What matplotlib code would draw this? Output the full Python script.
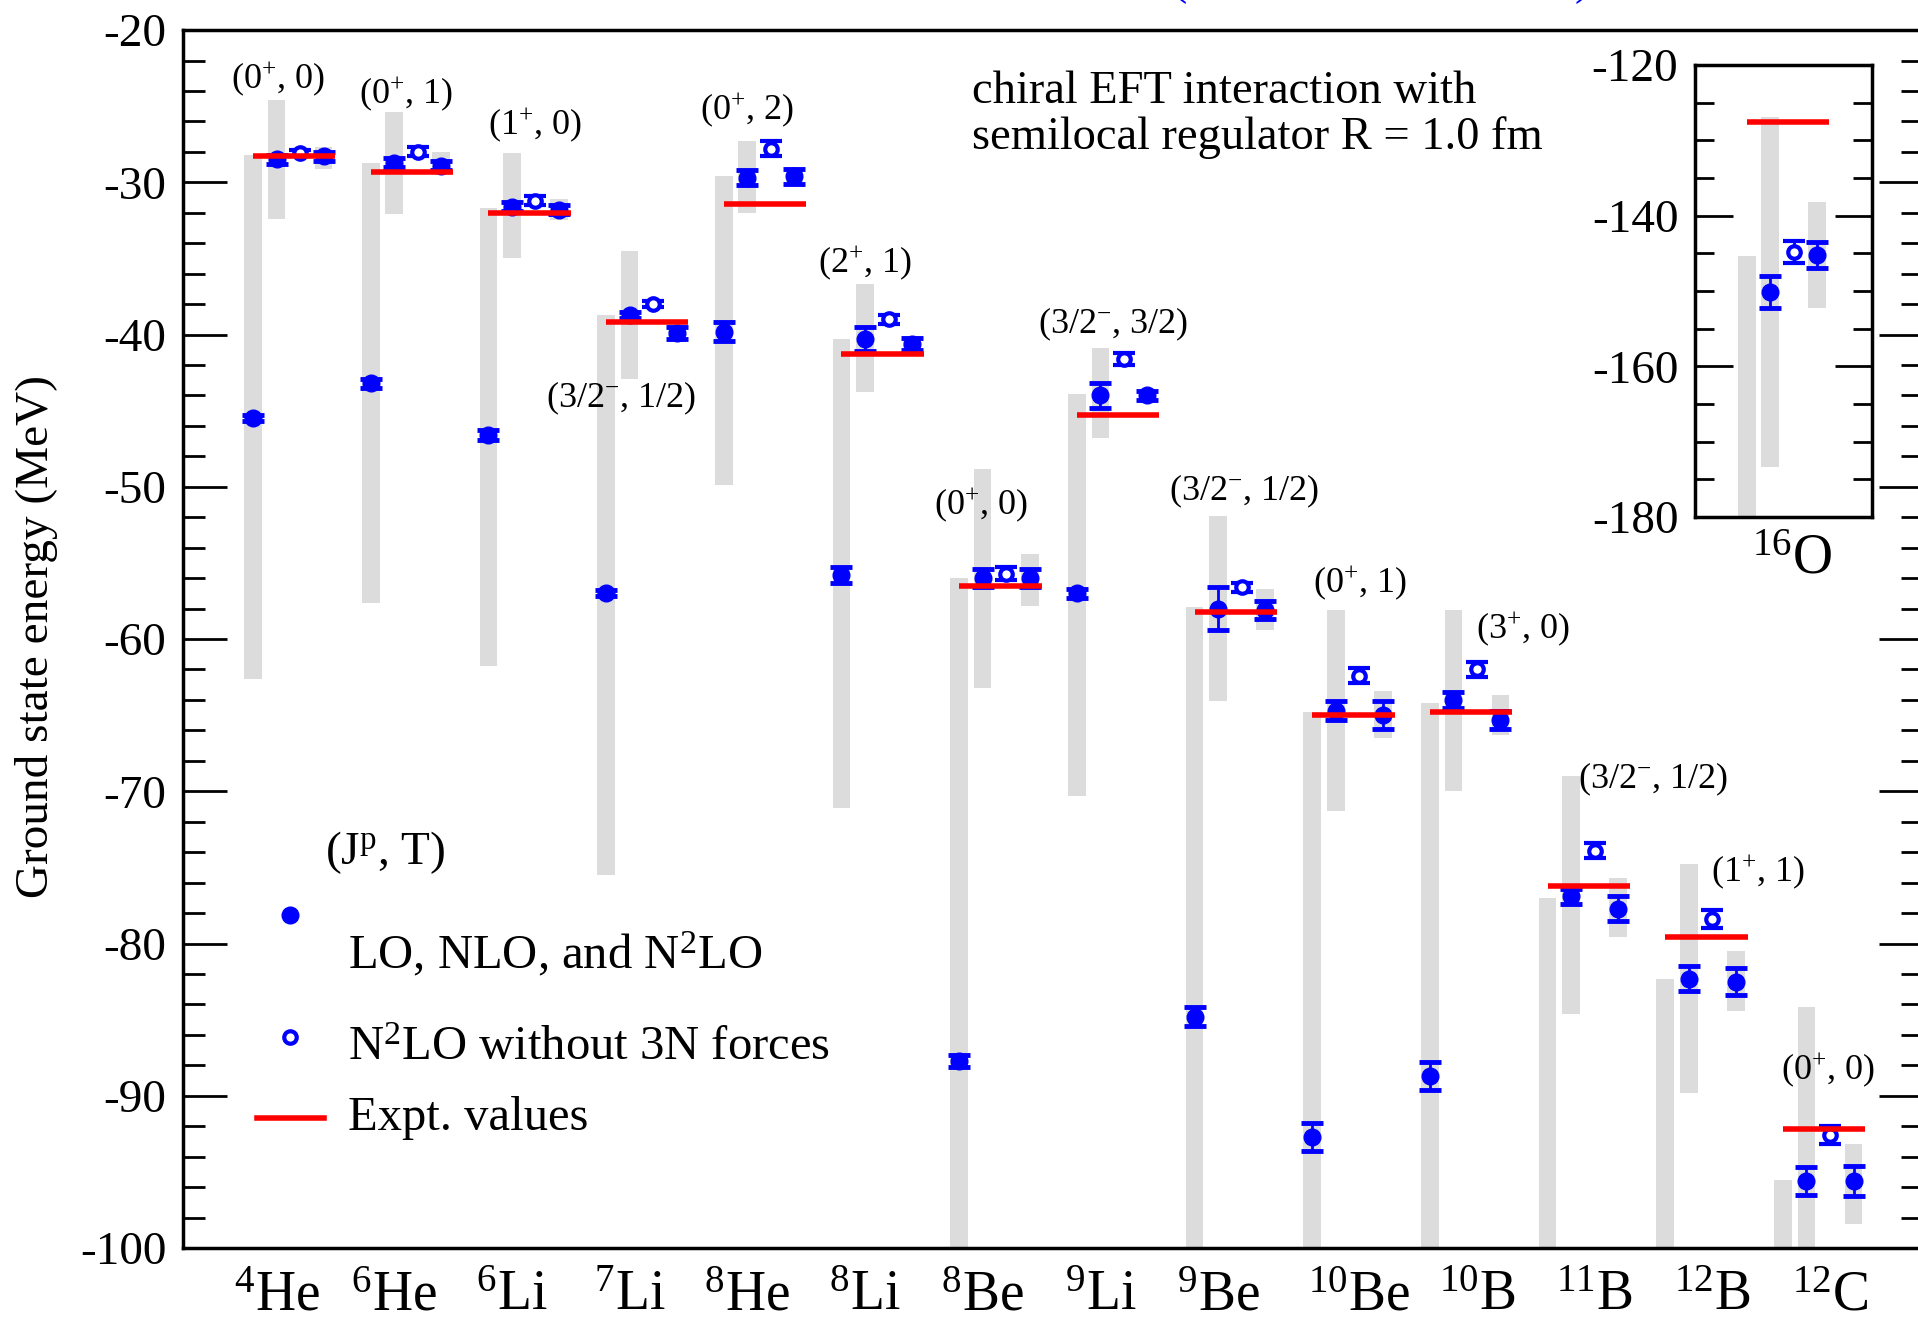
import numpy as np
import matplotlib
matplotlib.use("Agg")
import matplotlib.pyplot as plt

plt.rcParams["font.family"] = ["Liberation Serif", "DejaVu Serif"]
plt.rcParams["mathtext.fontset"] = "custom"
plt.rcParams["mathtext.rm"] = "Liberation Serif"
plt.rcParams["mathtext.it"] = "Liberation Serif:italic"
plt.rcParams["axes.unicode_minus"] = False

# ---------------------------------------------------------------------------
# data (MeV)
# ---------------------------------------------------------------------------
mass = [4, 6, 6, 7, 8, 8, 8, 9, 9, 10, 10, 11, 12, 12]
symbol = ["He", "He", "Li", "Li", "He", "Li", "Be", "Li", "Be", "Be", "B", "B", "B", "C"]
states = ["(0$^{+}$, 0)", "(0$^{+}$, 1)", "(1$^{+}$, 0)", "(3/2$^{-}$, 1/2)", "(0$^{+}$, 2)",
          "(2$^{+}$, 1)", "(0$^{+}$, 0)", "(3/2$^{-}$, 3/2)", "(3/2$^{-}$, 1/2)", "(0$^{+}$, 1)",
          "(3$^{+}$, 0)", "(3/2$^{-}$, 1/2)", "(1$^{+}$, 1)", "(0$^{+}$, 0)"]

nan = np.nan
lo = [-45.5, -43.2, -46.6, -57.0, -39.8, -55.8, -87.7, -57.0, -84.8, -92.7, -88.7, nan, nan, nan]
nlo = [-28.5, -28.7, -31.6, -38.7, -29.7, -40.3, -56.0, -44.0, -58.0, -64.7, -64.0, -76.9, -82.3, -95.6]
n2lo_no3n = [-28.1, -28.0, -31.2, -38.0, -27.8, -39.0, -55.7, -41.6, -56.6, -62.4, -62.0, -73.9, -78.4, -92.6]
n2lo = [-28.3, -28.9, -31.8, -39.9, -29.6, -40.6, -56.0, -44.0, -58.1, -65.0, -65.3, -77.7, -82.5, -95.6]
expt = [-28.3, -29.3, -32.0, -39.2, -31.4, -41.3, -56.5, -45.3, -58.2, -65.0, -64.8, -76.2, -79.6, -92.2]

lo_err = [0.2, 0.3, 0.3, 0.2, 0.6, 0.5, 0.4, 0.3, 0.6, 0.9, 0.9, 0.9, 0.9, 0.9]
nlo_err = [0.3, 0.3, 0.3, 0.2, 0.5, 0.8, 0.6, 0.8, 1.4, 0.6, 0.5, 0.5, 0.8, 0.9]
no3n_err = [0.2, 0.3, 0.3, 0.2, 0.5, 0.3, 0.4, 0.4, 0.3, 0.5, 0.5, 0.5, 0.6, 0.6]
n2lo_err = [0.3, 0.3, 0.3, 0.4, 0.5, 0.4, 0.6, 0.3, 0.6, 0.9, 0.6, 0.8, 0.9, 1.0]

# uncertainty bands (top, bottom)
lo_band_top = [-28.2, -28.7, -31.7, -38.7, -29.6, -40.3, -56.0, -43.9, -57.9, -64.8, -64.2, -77.0, -82.3, -95.5]
lo_band_bot = [-62.6, -57.6, -61.8, -75.5, -49.9, -71.1, -119.4, -70.3, -111.7, -120.6, -113.2, -130, -130, -130]
nlo_band_top = [-24.6, -25.4, -28.1, -34.5, -27.3, -36.7, -48.8, -40.9, -51.9, -58.1, -58.1, -69.0, -74.8, -84.2]
nlo_band_bot = [-32.4, -32.1, -35.0, -42.9, -32.0, -43.8, -63.2, -46.8, -64.1, -71.3, -70.0, -84.6, -89.8, -107.0]
n2lo_band_top = [-27.7, -28.0, -31.1, -39.3, -29.2, -40.1, -54.4, -43.6, -56.7, -63.4, -63.7, -75.7, -80.5, -93.2]
n2lo_band_bot = [-29.1, -29.5, -32.5, -40.5, -30.0, -41.3, -57.8, -44.4, -59.4, -66.5, -66.3, -79.6, -84.4, -98.4]

# 16O (inset)
o16_lo, o16_nlo, o16_no3n, o16_n2lo = nan, -150.1, -144.8, -145.2
o16_lo_err, o16_nlo_err, o16_no3n_err, o16_n2lo_err = 0.0, 2.1, 1.5, 1.7
o16_expt = -127.6
o16_bands = [(-145.3, -220.0), (-126.9, -173.3), (-138.2, -152.2)]

# label anchors (offset from group start, energy)
state_pos = [(0.21, -23.2), (0.30, -24.2), (0.40, -26.2), (0.13, -44.2), (0.20, -25.2),
             (0.20, -35.3), (0.19, -51.2), (0.31, -39.3), (0.42, -50.3), (0.41, -56.3),
             (0.79, -59.3), (0.90, -69.2), (0.79, -75.3), (0.38, -88.3)]

# ---------------------------------------------------------------------------
BLUE = "#0000ff"
RED = "#ff0000"
GRAY = "#dcdcdc"
OFF = [0.0, 0.2, 0.4, 0.6]   # LO, NLO, N2LO w/o 3N, N2LO
BAR_W = 0.15


def draw_group(ax, x0, vals, errs, bands, ex):
    for off, (top, bot) in zip([OFF[0], OFF[1], OFF[3]], bands):
        ax.bar(x0 + off, top - bot, bottom=bot, width=BAR_W, color=GRAY, zorder=1)
    for k in (0, 1, 3):
        ax.errorbar(x0 + OFF[k], vals[k], yerr=errs[k], fmt="o", color=BLUE, ms=12,
                    elinewidth=2, capsize=8, capthick=3.5, zorder=3)
    ax.errorbar(x0 + OFF[2], vals[2], yerr=errs[2], fmt="o", color=BLUE, mfc="white",
                mec=BLUE, ms=9, mew=3, elinewidth=2, capsize=8, capthick=3.5, zorder=3)
    ax.hlines(ex, x0, x0 + 0.7, color=RED, lw=4, zorder=4)


def style_axis(ax, major, minor, size):
    ax.yaxis.set_major_locator(plt.MultipleLocator(major))
    ax.yaxis.set_minor_locator(plt.MultipleLocator(minor))
    ax.tick_params(axis="y", which="both", direction="in", left=True, right=True,
                   width=2, labelsize=size, pad=12)
    for s in ax.spines.values():
        s.set_linewidth(2.5)


fig = plt.figure(figsize=(19.18, 13.25), dpi=100)
ax = fig.add_axes([0.0954, 0.0581, 0.9072, 0.9192])

x = np.arange(len(mass), dtype=float)
for i in range(len(mass)):
    draw_group(ax, x[i],
               [lo[i], nlo[i], n2lo_no3n[i], n2lo[i]],
               [lo_err[i], nlo_err[i], no3n_err[i], n2lo_err[i]],
               [(lo_band_top[i], lo_band_bot[i]), (nlo_band_top[i], nlo_band_bot[i]),
                (n2lo_band_top[i], n2lo_band_bot[i])],
               expt[i])
    dx, ey = state_pos[i]
    ax.text(x[i] + dx, ey, states[i], fontsize=26, ha="center", va="center", zorder=5)

ax.set_xlim(-0.595, 14.19)
ax.set_ylim(-100, -20)
style_axis(ax, 10, 2, 34)
ax.tick_params(axis="y", which="major", length=32)
ax.tick_params(axis="y", which="minor", length=16)

tick_x = [x[i] + (0.2 if m < 10 else 0.4) for i, m in enumerate(mass)]
tick_lab = [f"$^{{{m}}}$" + s for m, s in zip(mass, symbol)]
ax.set_xticks(tick_x)
ax.set_xticklabels(tick_lab, fontsize=40)
ax.tick_params(axis="x", length=0, pad=16)

ax.set_ylabel("Ground state energy (MeV)", fontsize=34)
ax.yaxis.set_label_coords(-0.072, 0.502)

# description and legend
ax.text(0.4537, 0.949, "chiral EFT interaction with", transform=ax.transAxes,
        fontsize=33.5, va="center", ha="left")
ax.text(0.4537, 0.912, "semilocal regulator R = 1.0 fm", transform=ax.transAxes,
        fontsize=33.5, va="center", ha="left")

ax.text(0.116, 0.325, "(J$^{\\mathrm{p}}$, T)", transform=ax.transAxes, fontsize=34,
        ha="center", va="center")
ax.plot([0.0615], [0.2734], "o", color=BLUE, ms=12, transform=ax.transAxes, clip_on=False)
ax.text(0.095, 0.2414, "LO, NLO, and N$^{2}$LO", transform=ax.transAxes, fontsize=35,
        va="center")
ax.plot([0.0615], [0.173], "o", color=BLUE, mfc="white", ms=9, mew=3,
        transform=ax.transAxes, clip_on=False)
ax.text(0.095, 0.164, "N$^{2}$LO without 3N forces", transform=ax.transAxes, fontsize=35,
        va="center")
ax.plot([0.0425, 0.081], [0.1067, 0.1067], color=RED, lw=4, transform=ax.transAxes)
ax.text(0.095, 0.1067, "Expt. values", transform=ax.transAxes, fontsize=35, va="center")

# clipped blue header from the page above
fig.text(0.615, 1.0 + 38 / 1325, "(", color=BLUE, fontsize=33, ha="center", va="top")
fig.text(0.825, 1.0 + 38 / 1325, ")", color=BLUE, fontsize=33, ha="center", va="top")

# inset: 16O
axi = fig.add_axes([0.8837, 0.6098, 0.0923, 0.3411])
draw_group(axi, 0.0, [o16_lo, o16_nlo, o16_no3n, o16_n2lo],
           [o16_lo_err, o16_nlo_err, o16_no3n_err, o16_n2lo_err], o16_bands, o16_expt)
axi.set_xlim(-0.44, 1.065)
axi.set_ylim(-180, -120)
style_axis(axi, 20, 5, 34)
axi.tick_params(axis="y", which="major", length=27)
axi.tick_params(axis="y", which="minor", length=14)
axi.set_xticks([])
axi.text(0.548, -0.093, "$^{16}$O", transform=axi.transAxes, fontsize=40,
         ha="center", va="center")

fig.savefig("out.png", dpi=100)
